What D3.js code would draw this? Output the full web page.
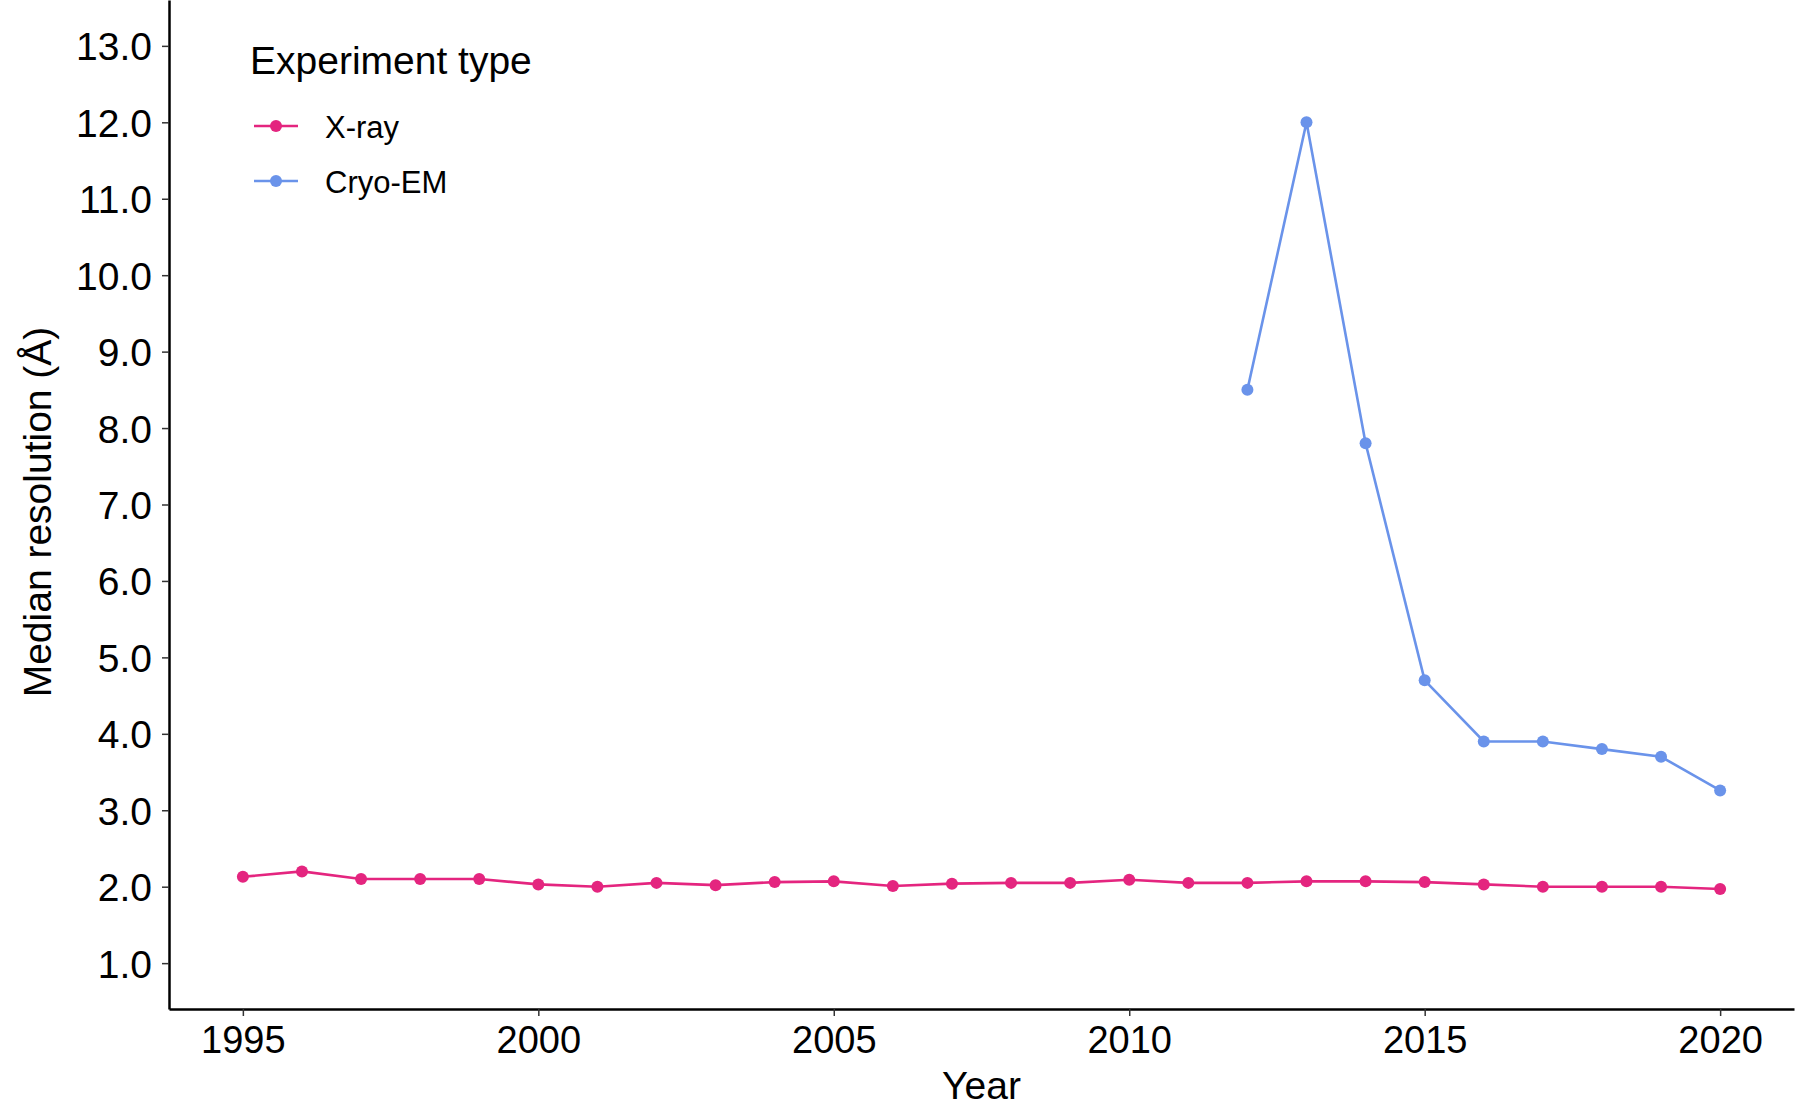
<!DOCTYPE html>
<html>
<head>
<meta charset="utf-8">
<script src="https://cdn.jsdelivr.net/npm/d3@7"></script>
<style>
    html, body { margin: 0; padding: 0; background: #fff; overflow: hidden; }
    svg { display: block; }
    text { font-family: "Liberation Sans", Arial, sans-serif; fill: #000; }
</style>
</head>
<body>
<div id="chart-area"></div>
<script>

// data
let years_xray = [1995, 1996, 1997, 1998, 1999, 2000, 2001, 2002, 2003, 2004, 2005, 2006, 2007,
    2008, 2009, 2010, 2011, 2012, 2013, 2014, 2015, 2016, 2017, 2018, 2019, 2020];
let values_xray = [2.13, 2.2, 2.1, 2.1, 2.1, 2.03, 2.0, 2.05, 2.02, 2.06, 2.07, 2.01, 2.04,
    2.05, 2.05, 2.09, 2.05, 2.05, 2.07, 2.07, 2.06, 2.03, 2.0, 2.0, 2.0, 1.97];

let years_cryo = [2012, 2013, 2014, 2015, 2016, 2017, 2018, 2019, 2020];
let values_cryo = [8.5, 12.0, 7.8, 4.7, 3.9, 3.9, 3.8, 3.7, 3.26];

let series_names = ["X-ray", "Cryo-EM"];
let series_colors = ["#e4257f", "#6a93ea"];

let xTicks = [1995, 2000, 2005, 2010, 2015, 2020];
let yTicks = [1, 2, 3, 4, 5, 6, 7, 8, 9, 10, 11, 12, 13];

// series table built from the arrays above
let series_data = [
    { name: series_names[0], color: series_colors[0], values: years_xray.map((y, i) => ({ year: y, value: values_xray[i] })) },
    { name: series_names[1], color: series_colors[1], values: years_cryo.map((y, i) => ({ year: y, value: values_cryo[i] })) }
];

let width = 1800, height = 1110;
let margin = { top: 0, right: 6, bottom: 101, left: 169 };
let innerWidth = width - margin.left - margin.right;
let innerHeight = height - margin.top - margin.bottom;

let svg = d3.select("#chart-area").append("svg")
    .attr("width", width)
    .attr("height", height);

let g = svg.append("g")
    .attr("transform", "translate(" + margin.left + "," + margin.top + ")");

// ggplot style 5% expansion around 1995-2020 and 1-13
let xScale = d3.scaleLinear().domain([1993.75, 2021.25]).range([0, innerWidth]);
let yScale = d3.scaleLinear().domain([0.4, 13.6]).range([innerHeight, 0]);

// axes (tickSize first, it also sets the outer size)
let xAxis = g.append("g")
    .attr("transform", "translate(0," + innerHeight + ")")
    .call(d3.axisBottom(xScale).tickValues(xTicks).tickFormat(d3.format("d")).tickSize(7).tickSizeOuter(0).tickPadding(10));

let yAxis = g.append("g")
    .call(d3.axisLeft(yScale).tickValues(yTicks).tickFormat(d3.format(".1f")).tickSize(7).tickSizeOuter(0).tickPadding(10));

xAxis.select(".domain").attr("stroke", "#000").attr("stroke-width", 2.5);
yAxis.select(".domain").attr("stroke", "#000").attr("stroke-width", 2.5);
xAxis.selectAll(".tick line").attr("stroke", "#333").attr("stroke-width", 1.5);
yAxis.selectAll(".tick line").attr("stroke", "#333").attr("stroke-width", 1.5);
xAxis.selectAll(".tick text").style("font-size", "38px").attr("fill", "#000");
yAxis.selectAll(".tick text").style("font-size", "39px").attr("fill", "#000").attr("dy", "0.36em");

// axis titles
svg.append("text")
    .attr("x", margin.left + innerWidth / 2)
    .attr("y", 1099)
    .attr("text-anchor", "middle")
    .style("font-size", "39px")
    .text("Year");

svg.append("text")
    .attr("transform", "translate(51," + 512 + ") rotate(-90)")
    .attr("text-anchor", "middle")
    .style("font-size", "39px")
    .text("Median resolution (Å)");

// lines and points
const line = d3.line()
    .x(d => xScale(d.year))
    .y(d => yScale(d.value));

g.selectAll(".line")
    .data(series_data)
    .enter().append("path")
    .attr("class", "line")
    .attr("d", d => line(d.values))
    .style("stroke", d => d.color)
    .style("stroke-width", 2.6)
    .style("fill", "none");

g.selectAll(".point-group")
    .data(series_data)
    .enter().append("g")
    .attr("class", "point-group")
    .style("fill", d => d.color)
    .selectAll("circle")
    .data(d => d.values)
    .enter().append("circle")
    .attr("cx", d => xScale(d.year))
    .attr("cy", d => yScale(d.value))
    .attr("r", 6);

// legend
let legend = svg.append("g").attr("transform", "translate(250,0)");

legend.append("text")
    .attr("x", 0)
    .attr("y", 74)
    .style("font-size", "39px")
    .text("Experiment type");

let legendItems = legend.selectAll(".legend-item")
    .data(series_data)
    .enter().append("g")
    .attr("class", "legend-item")
    .attr("transform", (d, i) => "translate(0," + (126 + i * 55) + ")");

legendItems.append("line")
    .attr("x1", 4).attr("x2", 48)
    .attr("stroke", d => d.color)
    .attr("stroke-width", 2.6);

legendItems.append("circle")
    .attr("cx", 26)
    .attr("r", 6)
    .attr("fill", d => d.color);

legendItems.append("text")
    .attr("x", 75)
    .attr("y", 12)
    .style("font-size", "31px")
    .text(d => d.name);

</script>
</body>
</html>
